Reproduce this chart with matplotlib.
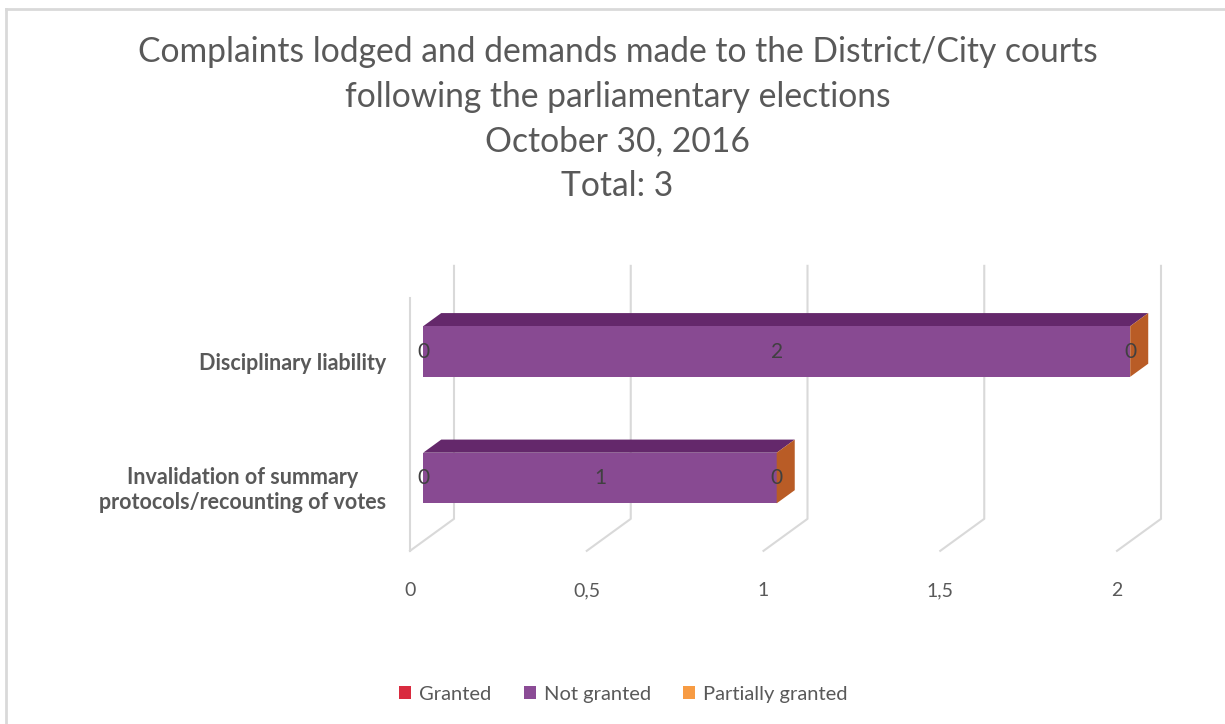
import matplotlib.pyplot as plt
from matplotlib.patches import Polygon, Patch
from matplotlib.lines import Line2D

plt.rcParams['font.family'] = ['Lato', 'DejaVu Sans']

# chart data
categories = ["Invalidation of summary\nprotocols/recounting of votes", "Disciplinary liability"]
series_names = ["Granted", "Not granted", "Partially granted"]
granted = [0, 0]
not_granted = [1, 2]
partially_granted = [0, 0]
x_ticks = [0, 0.5, 1, 1.5, 2]
x_tick_labels = ["0", "0,5", "1", "1,5", "2"]
title_lines = ["Complaints lodged and demands made to the District/City courts",
               "following the parliamentary elections",
               "October 30, 2016",
               "Total: 3"]

# colours: front face, top face, end face per series, and legend swatch
front_cols = ["#C0283A", "#884A92", "#E0883A"]
top_cols = ["#8E1C2A", "#64286B", "#A85220"]
end_cols = ["#9E2030", "#5A2462", "#B95C26"]
legend_cols = ["#D92B3F", "#8B4C96", "#F79B43"]

GRID = "#D9D9D9"
TXT = "#595959"

# oblique projection: depth d in [0, 1]
DX = 44 / 353.5
DY = 32 / 126.5
D_FRONT, D_BACK = 0.3, 0.71
BAR_H = 0.4


def proj(v, y, d):
    return (v + d * DX, y + d * DY)


fig = plt.figure(figsize=(12.25, 7.24), dpi=100)
ax = fig.add_axes([0, 0, 1, 1])
ax.set_xlim(-410 / 353.5, (1225 - 410) / 353.5)
ax.set_ylim(-(724 - 487.6) / 126.5, 487.6 / 126.5)
ax.axis('off')

y_lo, y_hi = -0.5, len(categories) - 0.5

# walls and floor gridlines
for v in x_ticks:
    p0 = proj(v, y_lo, 0)
    p1 = proj(v, y_lo, 1)
    p2 = proj(v, y_hi, 1)
    ax.plot([p0[0], p1[0], p2[0]], [p0[1], p1[1], p2[1]], color=GRID, lw=1.5, zorder=1)
p0 = proj(0, y_lo, 0)
p1 = proj(0, y_hi, 0)
ax.plot([p0[0], p1[0]], [p0[1], p1[1]], color=GRID, lw=1.5, zorder=1)

# tick labels
for v, lab in zip(x_ticks, x_tick_labels):
    ax.text(v, -0.817, lab, ha='center', va='center', fontsize=14, color=TXT)

# category labels
for i, cat in enumerate(categories):
    ax.text(-0.068, i - 0.02, cat, ha='right', va='center', multialignment='center',
            fontsize=15.5, fontweight='bold', color=TXT, linespacing=1.2)

# 3D stacked bars
series = [granted, not_granted, partially_granted]
for i in range(len(categories)):
    z = 10 + (len(categories) - i) * 5
    left = 0
    y0, y1 = i - BAR_H / 2, i + BAR_H / 2
    segs = []
    for s, vals in enumerate(series):
        segs.append((s, left, left + vals[i]))
        left += vals[i]
    for s, a, b in segs:
        if b > a:
            top = [proj(a, y1, D_FRONT), proj(b, y1, D_FRONT),
                   proj(b, y1, D_BACK), proj(a, y1, D_BACK)]
            ax.add_patch(Polygon(top, closed=True, fc=top_cols[s], ec='none', zorder=z))
            fx, fy = proj(a, y0, D_FRONT)
            ax.barh(fy + BAR_H / 2, b - a, left=fx, height=BAR_H,
                    color=front_cols[s], edgecolor='none', zorder=z + 1)
    # end face of the last segment
    s, a, b = segs[-1]
    end = [proj(b, y0, D_FRONT), proj(b, y1, D_FRONT),
           proj(b, y1, D_BACK), proj(b, y0, D_BACK)]
    ax.add_patch(Polygon(end, closed=True, fc=end_cols[s], ec='none', zorder=z + 2))
    # data labels
    for s, a, b in segs:
        lx, ly = proj((a + b) / 2, i, D_FRONT)
        ax.text(lx, ly, str(series[s][i]), ha='center', va='center',
                fontsize=15, color="#404040", zorder=z + 3)

# title, one line at a time
for k, line in enumerate(title_lines):
    fig.text(0.504, 1 - (52 + 44.7 * k) / 724, line, ha='center', va='center',
             fontsize=24.2, color=TXT)

handles = [Patch(facecolor=c, edgecolor='none') for c in legend_cols]
fig.legend(handles, series_names, loc='center', bbox_to_anchor=(0.509, 0.041),
           ncol=3, frameon=False, fontsize=14.5, handlelength=0.6, handleheight=0.6,
           handletextpad=0.4, columnspacing=1.6, labelcolor=TXT)

# chart frame edges
fig.add_artist(Line2D([6 / 1225, 6 / 1225], [0, 1 - 9 / 724], color=GRID, lw=2))
fig.add_artist(Line2D([6 / 1225, 1], [1 - 9 / 724, 1 - 9 / 724], color=GRID, lw=2))

fig.savefig("out.png", dpi=100)
